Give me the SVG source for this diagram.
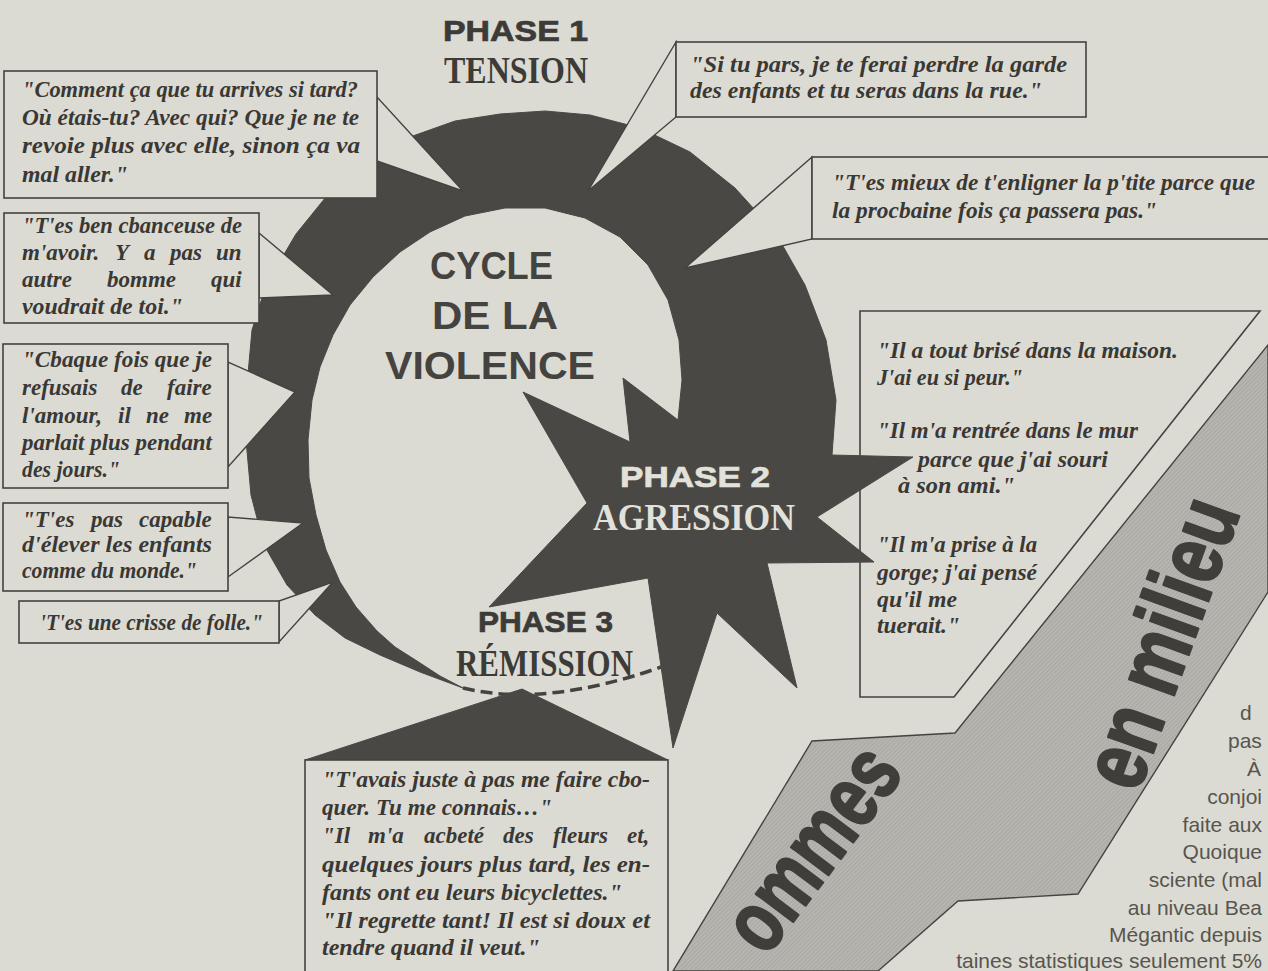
<svg xmlns="http://www.w3.org/2000/svg" width="1268" height="971" viewBox="0 0 1268 971">
<defs>
<pattern id="hatch" width="3" height="3" patternUnits="userSpaceOnUse" patternTransform="rotate(45)">
<rect width="3" height="3" fill="#b6b5af"/>
<line x1="0" y1="0" x2="0" y2="3" stroke="#9c9b95" stroke-width="1"/>
</pattern>
<style>
.bg{fill:#dcdbd3}
.ink{fill:#4a4845;stroke:#4a4845;stroke-width:1;stroke-linejoin:round}
.box{fill:none;stroke:#45433f;stroke-width:1.6}
.boxf{fill:#dcdbd3;stroke:#45433f;stroke-width:1.6}
.wedge{fill:#dcdbd3;stroke:#45433f;stroke-width:1.4;stroke-linejoin:miter}
.q{font-family:"Liberation Serif",serif;font-weight:bold;font-style:italic;font-size:23px;fill:#3a3835}
.ph{font-family:"Liberation Sans",sans-serif;font-weight:bold;font-size:30px;fill:#3d3b38;stroke:#3d3b38;stroke-width:0.7}
.sr{font-family:"Liberation Serif",serif;font-weight:bold;font-size:37px;fill:#3d3b38}
.cy{font-family:"Liberation Sans",sans-serif;font-weight:bold;font-size:38px;fill:#45433f}
.lt{fill:#e2e1da;stroke:none}
.ph.lt{stroke:#e2e1da}
.col{font-family:"Liberation Sans",sans-serif;font-size:21px;fill:#57554f}
.ce{text-anchor:end}
.ban{font-family:"Liberation Sans",sans-serif;font-weight:bold;fill:#403e3b;stroke:#403e3b;stroke-width:2.5;stroke-linejoin:round}
</style>
</defs>
<rect class="bg" x="0" y="0" width="1268" height="971"/>

<g id="banner">
<polygon points="1268,345 955,733 812,741 673,971 878,971 958,901 1078,894 1268,592" fill="url(#hatch)" stroke="#45433f" stroke-width="1.4"/>
<text class="ban" font-size="90" transform="translate(1138,794) rotate(-70) scale(0.77,1)">en milieu</text>
<text class="ban" font-size="88" transform="translate(766,958) rotate(-53) scale(0.75,1)">ommes</text>
</g>

<g id="box9">
<polygon class="box" points="860,311 1260,311 954,697 860,697"/>
<text class="q" x="877" y="358" textLength="301" lengthAdjust="spacingAndGlyphs">"Il a tout brisé dans la maison.</text>
<text class="q" x="877" y="385" textLength="146" lengthAdjust="spacingAndGlyphs">J'ai eu si peur."</text>
<text class="q" x="877" y="438" textLength="261" lengthAdjust="spacingAndGlyphs">"Il m'a rentrée dans le mur</text>
<text class="q" x="918" y="467" textLength="190" lengthAdjust="spacingAndGlyphs">parce que j'ai souri</text>
<text class="q" x="898" y="493" textLength="117" lengthAdjust="spacingAndGlyphs">à son ami."</text>
<text class="q" x="877" y="552" textLength="160" lengthAdjust="spacingAndGlyphs">"Il m'a prise à la</text>
<text class="q" x="877" y="580" textLength="160" lengthAdjust="spacingAndGlyphs">gorge; j'ai pensé</text>
<text class="q" x="877" y="607" textLength="80" lengthAdjust="spacingAndGlyphs">qu'il me</text>
<text class="q" x="877" y="633" textLength="83" lengthAdjust="spacingAndGlyphs">tuerait."</text>
</g>

<g id="cycle">
<polygon class="ink" points="832,455 836,400 826,340 805,285 775,232 735,188 690,152 640,128 590,115 545,111 500,114 455,121 410,137 368,160 330,192 296,234 266,285 252,330 247,385 246,440 251,495 264,545 287,585 315,615 345,638 380,655 420,672 463,688 440,676 417,661 395,647 377,631 356,607 340,582 326,550 316,515 309,478 308,440 312,400 320,367 333,335 350,305 373,277 400,252 430,232 465,216 505,208 545,208 585,218 620,237 648,265 668,300 679,340 682,380 678,420"/>
<text class="cy" x="430" y="279" textLength="123" lengthAdjust="spacingAndGlyphs">CYCLE</text>
<text class="cy" x="432" y="329" textLength="126" lengthAdjust="spacingAndGlyphs">DE LA</text>
<text class="cy" x="385" y="379" textLength="210" lengthAdjust="spacingAndGlyphs">VIOLENCE</text>
</g>

<g id="phase2">
<polygon class="ink" points="587,503 523,392 630,442 623,378 678,420 832,455 913,457 817,517 874,562 767,563 797,688 717,613 673,748 648,578 489,607"/>
<text class="ph lt" x="620" y="487" textLength="150" lengthAdjust="spacingAndGlyphs">PHASE 2</text>
<text class="sr lt" x="593" y="530" textLength="202" lengthAdjust="spacingAndGlyphs">AGRESSION</text>
</g>

<g id="phase1">
<text class="ph" x="443" y="41" textLength="145" lengthAdjust="spacingAndGlyphs">PHASE 1</text>
<text class="sr" x="444" y="83" textLength="144" lengthAdjust="spacingAndGlyphs">TENSION</text>
</g>

<g id="phase3">
<text class="ph" x="478" y="632" textLength="135" lengthAdjust="spacingAndGlyphs">PHASE 3</text>
<text class="sr" x="456" y="676" textLength="177" lengthAdjust="spacingAndGlyphs">RÉMISSION</text>
</g>

<g id="connectors">
<path d="M463,688 Q545,708 661,667" fill="none" stroke="#45433f" stroke-width="3.5" stroke-dasharray="12,6"/>
<polygon class="wedge" points="377,97 377,161 463,191"/>
<polygon class="wedge" points="676,42 676,117 588,191"/>
<polygon class="wedge" points="812,157 812,239 685,268"/>
<polygon class="wedge" points="259,233 259,298 333,295"/>
<polygon class="wedge" points="228,362 228,467 295,392"/>
<polygon class="wedge" points="228,517 228,577 303,523"/>
<polygon class="wedge" points="279,601 279,642 333,582"/>
<polygon class="ink" points="305,760 668,760 522,689"/>
</g>

<g id="box1">
<rect class="boxf" x="4" y="71" width="373" height="127"/>
<text class="q" x="22" y="97" textLength="336" lengthAdjust="spacingAndGlyphs">"Comment ça que tu arrives si tard?</text>
<text class="q" x="22" y="125" textLength="337" lengthAdjust="spacingAndGlyphs">Où étais-tu? Avec qui? Que je ne te</text>
<text class="q" x="22" y="153" textLength="338" lengthAdjust="spacingAndGlyphs">revoie plus avec elle, sinon ça va</text>
<text class="q" x="22" y="182" textLength="106" lengthAdjust="spacingAndGlyphs">mal aller."</text>
</g>

<g id="box2">
<rect class="boxf" x="676" y="42" width="410" height="75"/>
<text class="q" x="690" y="72" textLength="377" lengthAdjust="spacingAndGlyphs">"Si tu pars, je te ferai perdre la garde</text>
<text class="q" x="690" y="98" textLength="352" lengthAdjust="spacingAndGlyphs">des enfants et tu seras dans la rue."</text>
</g>

<g id="box3">
<rect class="boxf" x="812" y="157" width="470" height="82"/>
<text class="q" x="832" y="190" textLength="423" lengthAdjust="spacingAndGlyphs">"T'es mieux de t'enligner la p'tite parce que</text>
<text class="q" x="832" y="218" textLength="325" lengthAdjust="spacingAndGlyphs">la procbaine fois ça passera pas."</text>
</g>

<g id="box4">
<rect class="boxf" x="4" y="213" width="255" height="110"/>
<text class="q" x="22" y="233" textLength="220" lengthAdjust="spacingAndGlyphs">"T'es ben cbanceuse de</text>
<text class="q" y="260"><tspan x="22">m'avoir.</tspan><tspan x="115">Y</tspan><tspan x="144">a</tspan><tspan x="170">pas</tspan><tspan x="216">un</tspan></text>
<text class="q" y="287"><tspan x="22">autre</tspan><tspan x="107">bomme</tspan><tspan x="211">qui</tspan></text>
<text class="q" x="22" y="314" textLength="161" lengthAdjust="spacingAndGlyphs">voudrait de toi."</text>
</g>

<g id="box5">
<rect class="boxf" x="3" y="344" width="225" height="144"/>
<text class="q" x="22" y="367" textLength="190" lengthAdjust="spacingAndGlyphs">"Cbaque fois que je</text>
<text class="q" y="395"><tspan x="22">refusais</tspan><tspan x="121">de</tspan><tspan x="167">faire</tspan></text>
<text class="q" y="423"><tspan x="22">l'amour,</tspan><tspan x="118">il</tspan><tspan x="146">ne</tspan><tspan x="184">me</tspan></text>
<text class="q" x="22" y="450" textLength="190" lengthAdjust="spacingAndGlyphs">parlait plus pendant</text>
<text class="q" x="22" y="477" textLength="98" lengthAdjust="spacingAndGlyphs">des jours."</text>
</g>

<g id="box6">
<rect class="boxf" x="3" y="503" width="225" height="88"/>
<text class="q" y="527"><tspan x="22">"T'es</tspan><tspan x="91">pas</tspan><tspan x="139">capable</tspan></text>
<text class="q" x="22" y="552" textLength="190" lengthAdjust="spacingAndGlyphs">d'élever les enfants</text>
<text class="q" x="22" y="578" textLength="175" lengthAdjust="spacingAndGlyphs">comme du monde."</text>
</g>

<g id="box7">
<rect class="boxf" x="19" y="601" width="260" height="42"/>
<text class="q" x="40" y="630" textLength="223" lengthAdjust="spacingAndGlyphs">'T'es une crisse de folle."</text>
</g>

<g id="box8">
<rect class="boxf" x="305" y="760" width="363" height="230"/>
<text class="q" x="322" y="787" textLength="328" lengthAdjust="spacingAndGlyphs">"T'avais juste à pas me faire cbo-</text>
<text class="q" x="322" y="815" textLength="230" lengthAdjust="spacingAndGlyphs">quer. Tu me connais…"</text>
<text class="q" y="843"><tspan x="322">"Il</tspan><tspan x="368">m'a</tspan><tspan x="424">acbeté</tspan><tspan x="503">des</tspan><tspan x="553">fleurs</tspan><tspan x="627">et,</tspan></text>
<text class="q" x="322" y="872" textLength="328" lengthAdjust="spacingAndGlyphs">quelques jours plus tard, les en-</text>
<text class="q" x="322" y="900" textLength="300" lengthAdjust="spacingAndGlyphs">fants ont eu leurs bicyclettes."</text>
<text class="q" x="322" y="928" textLength="328" lengthAdjust="spacingAndGlyphs">"Il regrette tant! Il est si doux et</text>
<text class="q" x="322" y="955" textLength="218" lengthAdjust="spacingAndGlyphs">tendre quand il veut."</text>
</g>

<g id="article">
<text class="col" x="1240" y="720">d</text>
<text class="col" x="1228" y="748">pas</text>
<text class="col" x="1247" y="776">À</text>
<text class="col ce" x="1262" y="804">conjoi</text>
<text class="col ce" x="1262" y="832">faite aux</text>
<text class="col ce" x="1262" y="859">Quoique</text>
<text class="col ce" x="1262" y="887">sciente (mal</text>
<text class="col ce" x="1262" y="915">au niveau Bea</text>
<text class="col ce" x="1262" y="942">Mégantic depuis</text>
<text class="col ce" x="1262" y="968">taines statistiques seulement 5%</text>
</g>
</svg>
